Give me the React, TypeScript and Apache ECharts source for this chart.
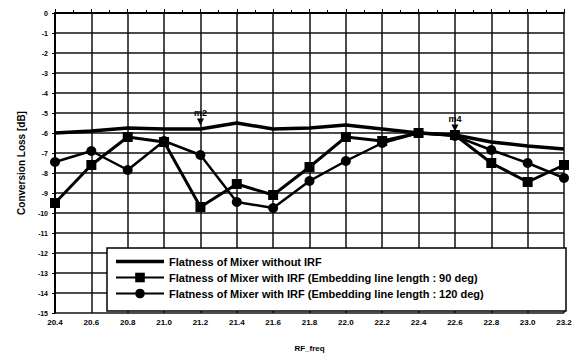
import React, { useEffect, useRef } from "react";
import * as echarts from "echarts";

const freqs = [20.4, 20.6, 20.8, 21.0, 21.2, 21.4, 21.6, 21.8, 22.0, 22.2, 22.4, 22.6, 22.8, 23.0, 23.2];
const noIrf = [-6.0, -5.9, -5.75, -5.8, -5.8, -5.5, -5.8, -5.75, -5.6, -5.8, -6.0, -6.1, -6.45, -6.65, -6.8];
const irf90 = [-9.5, -7.6, -6.2, -6.45, -9.7, -8.55, -9.1, -7.7, -6.2, -6.4, -6.0, -6.1, -7.5, -8.45, -7.6];
const irf120 = [-7.45, -6.9, -7.85, -6.4, -7.1, -9.45, -9.75, -8.4, -7.4, -6.5, -6.0, -6.15, -6.85, -7.5, -8.25];
const seriesNames = [
  "Flatness of Mixer without IRF",
  "Flatness of Mixer with IRF (Embedding line length : 90 deg)",
  "Flatness of Mixer with IRF (Embedding line length : 120 deg)",
];
const markers = [
  { name: "m2", x: 21.2, y: -5.8 },
  { name: "m4", x: 22.6, y: -6.1 },
];

const pairs = (ys: number[]) => freqs.map((f, i) => [f, ys[i]]);

export default function App() {
  const ref = useRef<HTMLDivElement>(null);
  useEffect(() => {
    if (!ref.current) return;
    const chart = echarts.init(ref.current, null, { renderer: "svg" });
    const font = "'Liberation Sans', Arial, sans-serif";
    const gridColors: string[] = [];
    for (let i = 0; i < 16; i++) gridColors.push(i === 15 ? "rgba(0,0,0,0)" : "#111");
    chart.setOption({
      animation: false,
      backgroundColor: "#fff",
      textStyle: { fontFamily: font },
      grid: { left: 55, right: 16, top: 13, bottom: 40 },
      xAxis: {
        type: "value",
        min: 20.4,
        max: 23.2,
        interval: 0.2,
        name: "RF_freq",
        nameLocation: "middle",
        nameGap: 31,
        nameTextStyle: { fontSize: 8, fontWeight: "bold", color: "#000" },
        axisLine: { show: true, lineStyle: { color: "#000", width: 2 } },
        axisTick: { show: true, inside: true, length: 4, lineStyle: { color: "#000" } },
        minorTick: { show: true, splitNumber: 2, length: 3, lineStyle: { color: "#000" } },
        axisLabel: {
          fontSize: 8,
          fontWeight: "bold",
          color: "#000",
          margin: 5,
          formatter: (v: number) => v.toFixed(1),
        },
        splitLine: { show: true, lineStyle: { color: "#111", width: 1.5 } },
      },
      yAxis: {
        type: "value",
        min: -15,
        max: 0,
        interval: 1,
        name: "Conversion Loss [dB]",
        nameLocation: "middle",
        nameGap: 29,
        nameTextStyle: { fontSize: 10, fontWeight: "bold", color: "#000" },
        axisLine: { show: true, lineStyle: { color: "#000", width: 2 } },
        axisTick: { show: true, length: 3, lineStyle: { color: "#000" } },
        axisLabel: { fontSize: 7, fontWeight: "bold", color: "#000", margin: 7 },
        splitLine: { show: true, lineStyle: { color: gridColors, width: 1.5 } },
      },
      legend: {
        orient: "vertical",
        left: 115,
        top: 256,
        padding: 0,
        itemWidth: 48,
        itemHeight: 12,
        itemGap: 5,
        z: 5,
        textStyle: { fontSize: 11, fontWeight: "bold", color: "#000", fontFamily: font },
        data: [
          { name: seriesNames[0], icon: "path://M0,0 L48,0 L48,3.5 L0,3.5 Z" },
          { name: seriesNames[1] },
          { name: seriesNames[2] },
        ],
      },
      graphic: [
        {
          type: "rect",
          z: 4,
          shape: { x: 107, y: 248, width: 459, height: 63 },
          style: { fill: "#fff", stroke: "#000", lineWidth: 1.5 },
        },
      ],
      series: [
        {
          name: seriesNames[0],
          type: "line",
          data: pairs(noIrf),
          symbol: "none",
          lineStyle: { color: "#000", width: 3.5 },
          itemStyle: { color: "#000" },
          markPoint: {
            symbol: "triangle",
            symbolRotate: 180,
            symbolSize: 7,
            symbolOffset: [0, -7],
            itemStyle: { color: "#000" },
            label: {
              show: true,
              position: "top",
              distance: 1,
              fontSize: 9,
              fontWeight: "bold",
              color: "#000",
              formatter: (p: any) => p.name,
            },
            data: markers.map((m) => ({ name: m.name, coord: [m.x, m.y] })),
          },
        },
        {
          name: seriesNames[1],
          type: "line",
          data: pairs(irf90),
          symbol: "rect",
          symbolSize: 10,
          lineStyle: { color: "#000", width: 3 },
          itemStyle: { color: "#000" },
        },
        {
          name: seriesNames[2],
          type: "line",
          data: pairs(irf120),
          symbol: "circle",
          symbolSize: 10,
          lineStyle: { color: "#000", width: 2.5 },
          itemStyle: { color: "#000" },
        },
      ],
    });
    return () => chart.dispose();
  }, []);
  return <div ref={ref} style={{ width: 580, height: 357, position: "absolute", left: 0, top: 0 }} />;
}
